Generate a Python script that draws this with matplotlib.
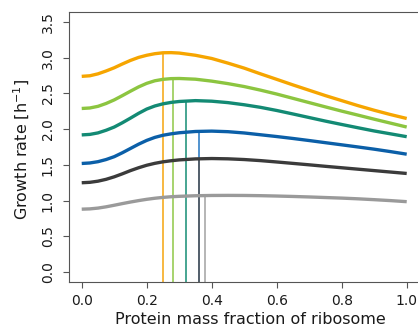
import numpy as np
import matplotlib.pyplot as plt

plt.rcParams['font.family'] = ['DejaVu Sans']

# ribosome mass fraction grid (finer where the curves bend)
phi_r = [0.0, 0.025, 0.05, 0.075, 0.1, 0.125, 0.15, 0.175, 0.2, 0.225, 0.25, 0.275, 0.3,
         0.35, 0.4, 0.45, 0.5, 0.55, 0.6, 0.65, 0.7, 0.75, 0.8, 0.85, 0.9, 0.95, 1.0]

# growth rate curves, one per nutrient condition (h^-1)
mu_orange = [2.74, 2.748, 2.775, 2.815, 2.86, 2.913, 2.963, 3.005, 3.035, 3.057, 3.07, 3.072, 3.066,
             3.035, 2.99, 2.925, 2.855, 2.775, 2.698, 2.62, 2.545, 2.47, 2.40, 2.33, 2.265, 2.205, 2.15]
mu_lightgreen = [2.29, 2.297, 2.32, 2.36, 2.41, 2.47, 2.532, 2.592, 2.642, 2.678, 2.698, 2.708, 2.71,
                 2.70, 2.673, 2.638, 2.597, 2.547, 2.492, 2.432, 2.372, 2.312, 2.253, 2.197, 2.14, 2.085, 2.03]
mu_teal = [1.92, 1.927, 1.948, 1.985, 2.03, 2.09, 2.155, 2.222, 2.282, 2.325, 2.355, 2.375, 2.388,
           2.40, 2.392, 2.372, 2.342, 2.306, 2.262, 2.213, 2.163, 2.113, 2.066, 2.02, 1.975, 1.935, 1.895]
mu_blue = [1.52, 1.527, 1.545, 1.575, 1.615, 1.67, 1.73, 1.79, 1.843, 1.885, 1.915, 1.935, 1.95,
           1.968, 1.973, 1.965, 1.947, 1.922, 1.897, 1.87, 1.841, 1.811, 1.781, 1.751, 1.72, 1.686, 1.65]
mu_darkgray = [1.25, 1.256, 1.272, 1.298, 1.333, 1.375, 1.42, 1.46, 1.495, 1.522, 1.543, 1.558, 1.57,
               1.584, 1.589, 1.585, 1.575, 1.56, 1.541, 1.521, 1.501, 1.48, 1.46, 1.44, 1.42, 1.40, 1.38]
mu_lightgray = [0.88, 0.884, 0.895, 0.913, 0.935, 0.958, 0.98, 1.0, 1.018, 1.033, 1.045, 1.054, 1.06,
                1.068, 1.072, 1.073, 1.072, 1.069, 1.064, 1.058, 1.051, 1.043, 1.035, 1.025, 1.013, 1.0, 0.985]

# optimal ribosome fraction and the growth rate reached there
phi_opt = [0.25, 0.28, 0.32, 0.36, 0.36, 0.38]
mu_opt = [3.07, 2.708, 2.394, 1.971, 1.587, 1.072]

curves = [mu_orange, mu_lightgreen, mu_teal, mu_blue, mu_darkgray, mu_lightgray]
colors = ['#f6a500', '#8cc540', '#138a74', '#0b5fa8', '#3b3b3b', '#9a9a9a']
vcolors = ['#f5a816', '#94ca4e', '#1e917a', '#2a7bc4', '#555555', '#a5a5a5']

xlim = (-0.04, 1.04)
ylim = (-0.14, 3.64)

fig = plt.figure(figsize=(4.18, 3.28), dpi=100)
ax = fig.add_axes([0.1644, 0.1402, 0.8397, 0.823])

# vertical markers at each optimum, from the bottom of the box up to the curve
for x0, y0, c in zip(phi_opt, mu_opt, vcolors):
    ax.vlines(x0, ylim[0], y0, colors=c, linewidth=1.15, zorder=1)

for mu, c in zip(curves, colors):
    ax.plot(phi_r, mu, color=c, linewidth=2.4, solid_capstyle='butt',
            solid_joinstyle='round', zorder=2)

ax.set_xlim(*xlim)
ax.set_ylim(*ylim)
xt = np.arange(0, 1.01, 0.2)
yt = np.arange(0, 3.51, 0.5)
ax.set_xticks(xt)
ax.set_xticklabels([f'{v:.1f}' for v in xt])
ax.set_yticks(yt)
ax.set_yticklabels([f'{v:.1f}' for v in yt])

for sp in ax.spines.values():
    sp.set_color('#555555')
    sp.set_linewidth(0.8)
ax.tick_params(axis='both', direction='out', length=4.3, width=0.8,
               color='#555555', labelsize=10, labelcolor='#1a1a1a')
ax.tick_params(axis='x', pad=4.6)
ax.tick_params(axis='y', pad=5.8)
for t in ax.get_yticklabels():
    t.set_rotation(90)
    t.set_va('center')

ax.set_xlabel('Protein mass fraction of ribosome', fontsize=11.5, color='#1a1a1a',
              va='baseline')
ax.xaxis.set_label_coords(0.5165, -0.155)
ax.set_ylabel('Growth rate [h$^{-1}$]', fontsize=11.5, color='#1a1a1a', va='center')
ax.yaxis.set_label_coords(-0.133, 0.493)

fig.savefig('out.png', dpi=100)
